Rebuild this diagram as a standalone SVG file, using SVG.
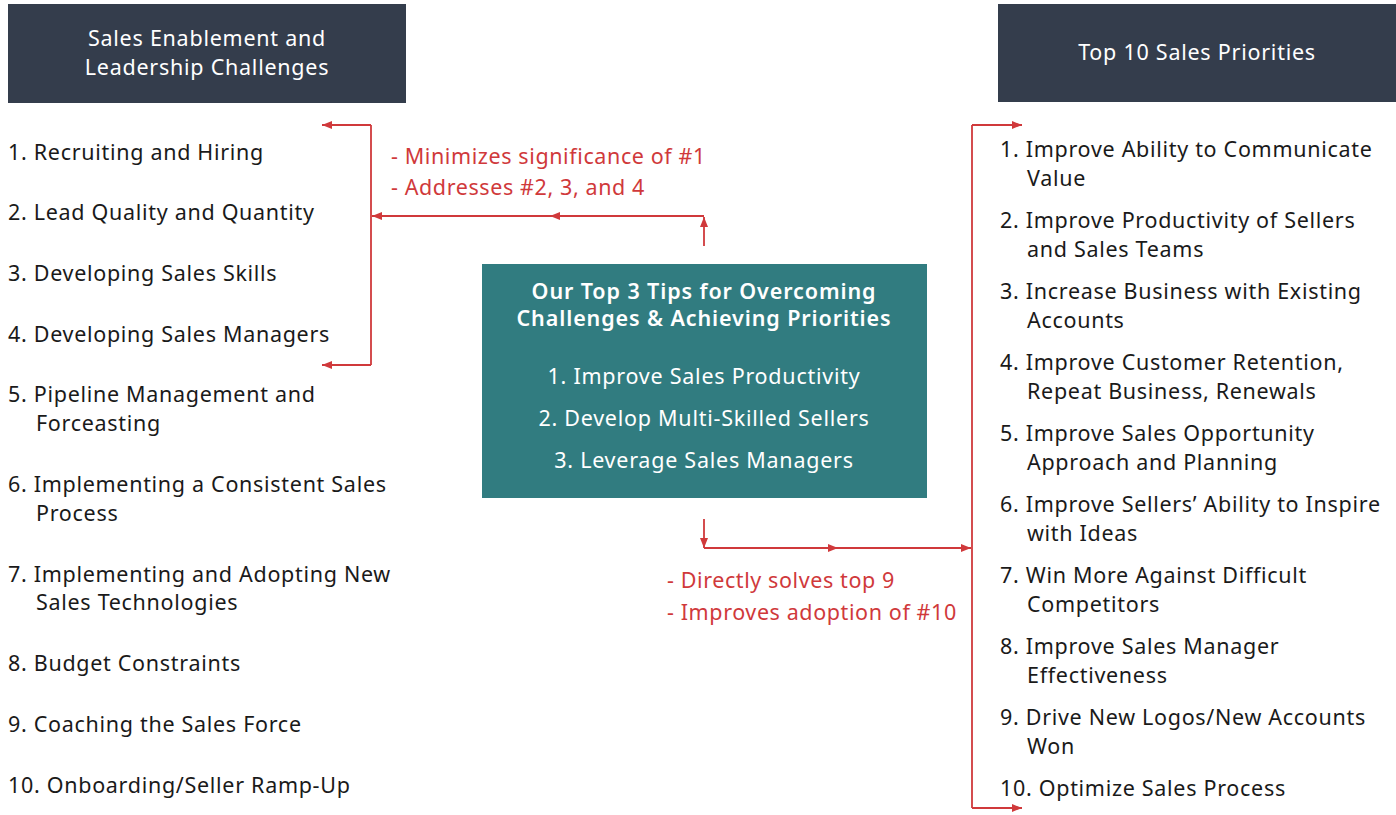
<svg xmlns="http://www.w3.org/2000/svg" width="1396" height="815" viewBox="0 0 1396 815">
<defs>
<marker id="ah" viewBox="0 0 10 8" refX="10" refY="4" markerWidth="10" markerHeight="8" orient="auto" markerUnits="userSpaceOnUse">
<path d="M0,0 L10,4 L0,8 z" fill="#d0393b"/>
</marker>
<style>
.t{font-family:"Noto Sans",Lato,sans-serif;font-size:21.5px;letter-spacing:0.7px;fill:#1a1a1a}
.h{font-family:"Noto Sans",Lato,sans-serif;font-size:21.5px;letter-spacing:0.75px;fill:#ffffff;text-anchor:middle}
.b{font-weight:600;letter-spacing:0.9px}
.r{font-family:"Noto Sans",Lato,sans-serif;font-size:21.5px;letter-spacing:0.6px;fill:#d0393b}
.c{fill:none;stroke:#d0393b;stroke-width:1.8}
</style>
</defs>
<rect width="1396" height="815" fill="#ffffff"/>
<g id="left-header">
<rect x="8" y="4" width="398" height="99" fill="#343d4c"/>
<text class="h" x="207" y="46">Sales Enablement and</text>
<text class="h" x="207" y="75">Leadership Challenges</text>
</g>
<g id="right-header">
<rect x="998" y="4" width="398" height="98" fill="#343d4c"/>
<text class="h" x="1197" y="60">Top 10 Sales Priorities</text>
</g>
<g id="challenges">
<text class="t" x="8" y="160">1. Recruiting and Hiring</text>
<text class="t" x="8" y="220">2. Lead Quality and Quantity</text>
<text class="t" x="8" y="281">3. Developing Sales Skills</text>
<text class="t" x="8" y="342">4. Developing Sales Managers</text>
<text class="t" x="8" y="402">5. Pipeline Management and</text>
<text class="t" x="36" y="431">Forceasting</text>
<text class="t" x="8" y="492">6. Implementing a Consistent Sales</text>
<text class="t" x="36" y="521">Process</text>
<text class="t" x="8" y="582">7. Implementing and Adopting New</text>
<text class="t" x="36" y="610">Sales Technologies</text>
<text class="t" x="8" y="671">8. Budget Constraints</text>
<text class="t" x="8" y="732">9. Coaching the Sales Force</text>
<text class="t" x="8" y="793">10. Onboarding/Seller Ramp-Up</text>
</g>
<g id="priorities">
<text class="t" x="1000" y="157">1. Improve Ability to Communicate</text>
<text class="t" x="1027" y="186">Value</text>
<text class="t" x="1000" y="228">2. Improve Productivity of Sellers</text>
<text class="t" x="1027" y="257">and Sales Teams</text>
<text class="t" x="1000" y="299">3. Increase Business with Existing</text>
<text class="t" x="1027" y="328">Accounts</text>
<text class="t" x="1000" y="370">4. Improve Customer Retention,</text>
<text class="t" x="1027" y="399">Repeat Business, Renewals</text>
<text class="t" x="1000" y="441">5. Improve Sales Opportunity</text>
<text class="t" x="1027" y="470">Approach and Planning</text>
<text class="t" x="1000" y="512">6. Improve Sellers’ Ability to Inspire</text>
<text class="t" x="1027" y="541">with Ideas</text>
<text class="t" x="1000" y="583">7. Win More Against Difficult</text>
<text class="t" x="1027" y="612">Competitors</text>
<text class="t" x="1000" y="654">8. Improve Sales Manager</text>
<text class="t" x="1027" y="683">Effectiveness</text>
<text class="t" x="1000" y="725">9. Drive New Logos/New Accounts</text>
<text class="t" x="1027" y="754">Won</text>
<text class="t" x="1000" y="796">10. Optimize Sales Process</text>
</g>
<g id="tips">
<rect x="482" y="264" width="445" height="234" fill="#317c80"/>
<text class="h b" x="704" y="299">Our Top 3 Tips for Overcoming</text>
<text class="h b" x="704" y="326">Challenges &amp; Achieving Priorities</text>
<text class="h" x="704" y="384">1. Improve Sales Productivity</text>
<text class="h" x="704" y="426">2. Develop Multi-Skilled Sellers</text>
<text class="h" x="704" y="468">3. Leverage Sales Managers</text>
</g>
<g id="connectors">
<path class="c" d="M704,246 V217" marker-end="url(#ah)"/>
<path class="c" d="M704,216 H550" marker-end="url(#ah)"/>
<path class="c" d="M550,216 H372" marker-end="url(#ah)"/>
<path class="c" d="M371,125 V365"/>
<path class="c" d="M371,125 H322" marker-end="url(#ah)"/>
<path class="c" d="M371,365 H322" marker-end="url(#ah)"/>
<path class="c" d="M704,519 V548" marker-end="url(#ah)"/>
<path class="c" d="M704,548 H838" marker-end="url(#ah)"/>
<path class="c" d="M838,548 H971" marker-end="url(#ah)"/>
<path class="c" d="M972,125 V808"/>
<path class="c" d="M972,125 H1022" marker-end="url(#ah)"/>
<path class="c" d="M972,808 H1022" marker-end="url(#ah)"/>
<text class="r" x="391" y="164">- Minimizes significance of #1</text>
<text class="r" x="391" y="195">- Addresses #2, 3, and 4</text>
<text class="r" x="667" y="588">- Directly solves top 9</text>
<text class="r" x="667" y="620">- Improves adoption of #10</text>
</g>
</svg>
